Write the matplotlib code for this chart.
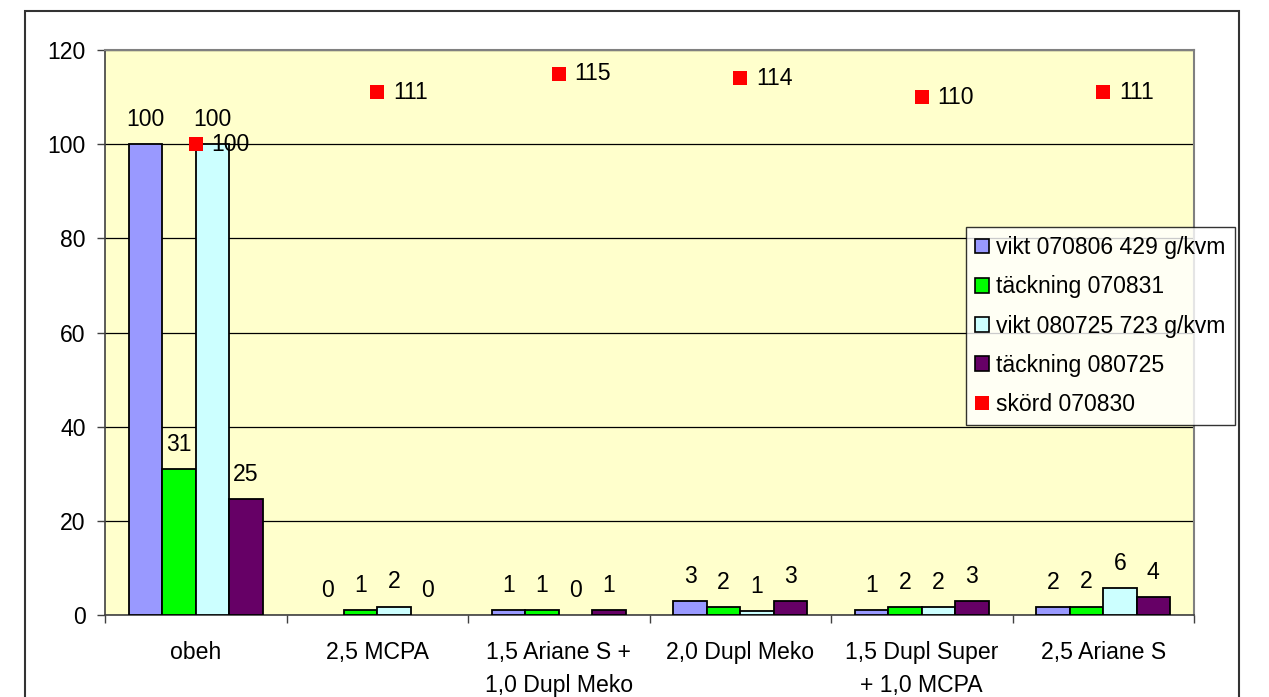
import numpy as np
import matplotlib
matplotlib.use('Agg')
import matplotlib.pyplot as plt
from matplotlib.patches import Patch, Rectangle
from matplotlib.lines import Line2D

plt.rcParams['font.family'] = ['Liberation Sans', 'DejaVu Sans']

categories = ['obeh', '2,5 MCPA', '1,5 Ariane S +\n1,0 Dupl Meko', '2,0 Dupl Meko',
              '1,5 Dupl Super\n+ 1,0 MCPA', '2,5 Ariane S']
vikt_0708 = [100, 0, 1.0, 3.0, 1.0, 1.6]
tack_0708 = [31, 1.0, 1.0, 1.7, 1.7, 1.8]
vikt_0807 = [100, 1.8, 0, 0.9, 1.7, 5.7]
tack_0807 = [24.6, 0, 1.0, 3.0, 3.0, 3.8]
skord = [100, 111, 115, 114, 110, 111]

bar_names = ['vikt 070806 429 g/kvm', 'täckning 070831', 'vikt 080725 723 g/kvm', 'täckning 080725']
bar_colors = ['#9999FF', '#00FF00', '#CCFFFF', '#660066']
skord_name = 'skörd 070830'

FS = 16.6

fig = plt.figure(figsize=(12.69, 6.97), dpi=100)
W, H = 1269, 697
ax = fig.add_axes([105 / W, 1 - 615 / H, (1194 - 105) / W, (615 - 50) / H])
ax.set_facecolor('#FFFFCC')

x = np.arange(len(categories))
bw = 0.184
series = [vikt_0708, tack_0708, vikt_0807, tack_0807]
for i, (vals, col) in enumerate(zip(series, bar_colors)):
    pos = x + (i - 1.5) * bw
    lw = [1.3 if v > 0 else 0 for v in vals]
    ax.bar(pos, vals, bw, color=col, edgecolor='black', linewidth=lw, zorder=3)
    for px, v in zip(pos, vals):
        ax.annotate(str(int(round(v))), (px, v), xytext=(0, 13), textcoords='offset points',
                    ha='center', va='baseline', fontsize=FS, zorder=5)

ax.plot(x, skord, linestyle='none', marker='s', markersize=9.6, color='#FF0000',
        markeredgewidth=0, zorder=4)
for px, v in zip(x, skord):
    ax.annotate(str(v), (px, v), xytext=(11.5, 0), textcoords='offset points',
                ha='left', va='center', fontsize=FS, zorder=5)

ax.set_xlim(-0.5, len(categories) - 0.5)
ax.set_ylim(0, 120)
ax.set_yticks(np.arange(0, 121, 20))
ax.yaxis.grid(True, color='black', linewidth=0.9, zorder=0)
ax.set_axisbelow(True)
ax.tick_params(axis='y', direction='out', length=6, width=1, pad=8, labelsize=FS, color='#404040')

ax.set_xticks(np.arange(-0.5, len(categories), 1.0))
ax.set_xticklabels([])
ax.set_xticks(x, minor=True)
ax.set_xticklabels(categories, minor=True, fontsize=FS, linespacing=1.55)
ax.tick_params(axis='x', which='major', direction='out', length=6, width=1, color='#404040')
ax.tick_params(axis='x', which='minor', length=0, pad=19)

for s in ['top', 'right']:
    ax.spines[s].set_color('#808080')
    ax.spines[s].set_linewidth(1.5)
for s in ['left', 'bottom']:
    ax.spines[s].set_color('#404040')
    ax.spines[s].set_linewidth(1.2)

# outer chart border
fig.patches.append(Rectangle((25 / W, -0.05), (1239 - 25) / W, 1 - 11 / H + 0.05,
                             transform=fig.transFigure, fill=False, edgecolor='#333333',
                             linewidth=1.5, zorder=0))

handles = [Patch(facecolor=c, edgecolor='black', linewidth=1.2) for c in bar_colors]
handles.append(Line2D([], [], linestyle='none', marker='s', markersize=9.6, color='#FF0000',
                      markeredgewidth=0))
leg = fig.legend(handles, bar_names + [skord_name], loc='upper left',
                 bbox_to_anchor=(966 / W, 1 - 227 / H), bbox_transform=fig.transFigure,
                 borderaxespad=0, fontsize=FS, frameon=True, fancybox=False,
                 handlelength=0.6, handleheight=0.6, handletextpad=0.3,
                 labelspacing=0.7, borderpad=0.4)
leg.get_frame().set_edgecolor('black')
leg.get_frame().set_linewidth(1.0)
leg.set_zorder(10)

fig.savefig('out.png', dpi=100, facecolor='white')
